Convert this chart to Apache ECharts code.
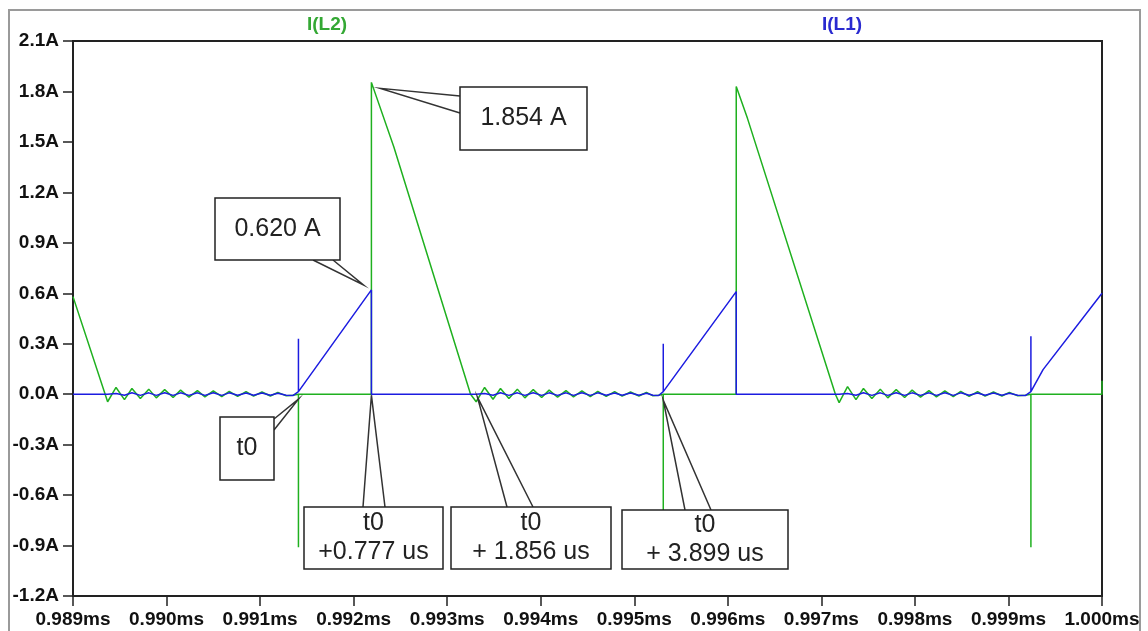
<!DOCTYPE html>
<html>
<head>
<meta charset="utf-8">
<script src="https://cdn.jsdelivr.net/npm/echarts@6/dist/echarts.min.js"></script>
<style>
  html, body { margin: 0; padding: 0; background: #fff; }
  #chart { width: 1148px; height: 631px; }
</style>
</head>
<body>
<div id="chart"></div>
<script>
// ---- data (time in microseconds, current in amperes) ----
const seriesNames = ['I(L2)', 'I(L1)'];
const xTickMin = 989, xTickMax = 1000, xTickStep = 1;      // 0.989ms .. 1.000ms
const yTickMin = -1.2, yTickMax = 2.1, yTickStep = 0.3;    // -1.2A .. 2.1A

const timeUs = [
  989.00, 989.37,
  989.46, 989.55, 989.63, 989.72, 989.81, 989.89, 989.98, 990.07, 990.15, 990.24, 990.33, 990.41,
  990.50, 990.59, 990.67, 990.76, 990.85, 990.93, 991.02, 991.11, 991.19, 991.28, 991.35,
  991.41, 991.41, 991.41, 992.19, 992.19, 992.43, 993.25, 993.31,
  993.40, 993.49, 993.57, 993.66, 993.75, 993.83, 993.92, 994.01, 994.09, 994.18, 994.27, 994.35,
  994.44, 994.53, 994.61, 994.70, 994.79, 994.87, 994.96, 995.05, 995.13, 995.20, 995.26,
  995.31, 995.31, 995.31, 996.09, 996.09, 996.21, 997.15, 997.19,
  997.28, 997.37, 997.45, 997.54, 997.63, 997.71, 997.80, 997.89, 997.97, 998.06, 998.15, 998.23,
  998.32, 998.41, 998.49, 998.58, 998.67, 998.75, 998.84, 998.93, 999.01, 999.10, 999.18,
  999.24, 999.24, 999.24, 999.37, 1000.00, 1000.00
];

const currentL2 = [
  0.58, -0.045,
  0.040, -0.032, 0.034, -0.026, 0.030, -0.022, 0.027, -0.020, 0.024, -0.018, 0.021, -0.016,
  0.019, -0.014, 0.017, -0.013, 0.015, -0.012, 0.013, -0.011, 0.011, -0.010, -0.006,
  0.0, -0.91, 0.0, 0.0, 1.854, 1.47, 0.0, -0.045,
  0.040, -0.030, 0.034, -0.026, 0.030, -0.022, 0.027, -0.020, 0.024, -0.018, 0.021, -0.016,
  0.019, -0.014, 0.017, -0.013, 0.015, -0.012, 0.013, -0.011, 0.011, -0.010, -0.006,
  0.0, -0.92, 0.0, 0.0, 1.83, 1.64, 0.0, -0.05,
  0.045, -0.032, 0.034, -0.026, 0.030, -0.022, 0.027, -0.020, 0.024, -0.018, 0.021, -0.016,
  0.019, -0.014, 0.017, -0.013, 0.015, -0.012, 0.013, -0.011, 0.011, -0.010, -0.006,
  0.0, -0.91, 0.0, 0.0, 0.0, 0.08
];

const currentL1 = [
  0.0, 0.0,
  0.004, -0.006, 0.008, -0.007, 0.008, -0.007, 0.008, -0.007, 0.008, -0.007, 0.008, -0.007,
  0.008, -0.007, 0.008, -0.006, 0.007, -0.006, 0.007, -0.006, 0.006, -0.006, -0.008,
  0.015, 0.33, 0.015, 0.62, 0.0, 0.0, 0.0, 0.0,
  0.004, -0.006, 0.008, -0.007, 0.008, -0.007, 0.008, -0.007, 0.008, -0.007, 0.008, -0.007,
  0.008, -0.007, 0.008, -0.006, 0.007, -0.006, 0.007, -0.006, 0.006, -0.006, -0.008,
  0.015, 0.30, 0.015, 0.61, 0.0, 0.0, 0.0, 0.0,
  0.004, -0.006, 0.008, -0.007, 0.008, -0.007, 0.008, -0.007, 0.008, -0.007, 0.008, -0.007,
  0.008, -0.007, 0.008, -0.006, 0.007, -0.006, 0.007, -0.006, 0.006, -0.006, -0.008,
  0.015, 0.345, 0.015, 0.146, 0.60, 0.60
];

// callout annotations (text + the data point each one refers to)
const calloutText  = ['1.854 A', '0.620 A', 't0', 't0\n+0.777 us', 't0\n+ 1.856 us', 't0\n+ 3.899 us'];
const calloutTime  = [992.19, 992.19, 991.41, 992.19, 993.27, 995.31];
const calloutValue = [1.854, 0.62, 0, 0, 0, 0];

// ---- layout / style (pixels) ----
const calloutBox = [[460, 87, 127, 63], [215, 198, 125, 62], [220, 417, 54, 63],
                    [304, 507, 139, 62], [451, 507, 160, 62], [622, 510, 166, 59]];
const calloutBase = [[[460, 96], [460, 113]], [[313, 260], [333, 260]], [[274, 419], [274, 430]],
                     [[363, 507], [385, 507]], [[507, 507], [533, 507]], [[685, 510], [711, 510]]];
const calloutTipOffset = [[9, 6], [-8, -5], [0, 5], [0, 1], [5, 3], [0, 6]];

const GREEN = '#1fb01f', BLUE = '#1c1ce0';
const GREEN_TXT = '#34a834', BLUE_TXT = '#2a2ad0';
const FONT = '"Liberation Sans", Arial, sans-serif';

const chart = echarts.init(document.getElementById('chart'), null, { renderer: 'canvas' });

const l2Data = timeUs.map((t, i) => [t, currentL2[i]]);
const l1Data = timeUs.map((t, i) => [t, currentL1[i]]);

chart.setOption({
  animation: false,
  backgroundColor: '#fff',
  legend: [
    { data: [{ name: seriesNames[0], textStyle: { color: GREEN_TXT } }], left: 302, top: 15,
      icon: 'none', itemWidth: 0, itemHeight: 0, padding: 0, selectedMode: false,
      textStyle: { fontFamily: FONT, fontWeight: 'bold', fontSize: 19 } },
    { data: [{ name: seriesNames[1], textStyle: { color: BLUE_TXT } }], left: 817, top: 15,
      icon: 'none', itemWidth: 0, itemHeight: 0, padding: 0, selectedMode: false,
      textStyle: { fontFamily: FONT, fontWeight: 'bold', fontSize: 19 } }
  ],
  grid: { left: 73, right: 46, top: 41, bottom: 35, show: true, borderColor: '#222', borderWidth: 2, backgroundColor: '#fff' },
  xAxis: {
    type: 'value', min: xTickMin, max: xTickMax, interval: xTickStep,
    axisLine: { show: true, onZero: false, lineStyle: { color: '#222', width: 2 } },
    axisTick: { show: true, length: 10, lineStyle: { color: '#222', width: 1.5 } },
    splitLine: { show: false },
    axisLabel: { margin: 14, color: '#111', fontFamily: FONT, fontWeight: 'bold', fontSize: 19,
      formatter: v => (v / 1000).toFixed(3) + 'ms', showMinLabel: true, showMaxLabel: true }
  },
  yAxis: {
    type: 'value', min: yTickMin, max: yTickMax, interval: yTickStep,
    axisLine: { show: true, onZero: false, lineStyle: { color: '#222', width: 2 } },
    axisTick: { show: true, length: 10, lineStyle: { color: '#222', width: 1.5 } },
    splitLine: { show: false },
    axisLabel: { margin: 14, color: '#111', fontFamily: FONT, fontWeight: 'bold', fontSize: 19,
      formatter: v => (Math.abs(v) < 1e-9 ? 0 : v).toFixed(1) + 'A' }
  },
  series: [
    { name: seriesNames[0], type: 'line', data: l2Data, showSymbol: false, symbol: 'none',
      lineStyle: { color: GREEN, width: 1.5 }, itemStyle: { color: GREEN }, z: 2 },
    { name: seriesNames[1], type: 'line', data: l1Data, showSymbol: false, symbol: 'none',
      lineStyle: { color: BLUE, width: 1.5 }, itemStyle: { color: BLUE }, z: 3 }
  ]
});

// callouts: pointer wedge + boxed text, pointer tip placed via the chart's own scales
const graphics = [];
graphics.push({ type: 'rect', z: 1, silent: true,
  shape: { x: 9, y: 10, width: 1131, height: 640 },
  style: { fill: 'none', stroke: '#9a9a9a', lineWidth: 2 } });
calloutText.forEach((txt, k) => {
  const p = chart.convertToPixel({ gridIndex: 0 }, [calloutTime[k], calloutValue[k]]);
  const tip = [p[0] + calloutTipOffset[k][0], p[1] + calloutTipOffset[k][1]];
  const b = calloutBox[k];
  graphics.push({ type: 'polyline', z: 100, silent: true,
    shape: { points: [calloutBase[k][0], tip, calloutBase[k][1]] },
    style: { fill: 'none', stroke: '#333', lineWidth: 1.5 } });
  graphics.push({ type: 'rect', z: 101, silent: true,
    shape: { x: b[0], y: b[1], width: b[2], height: b[3] },
    style: { fill: '#fff', stroke: '#222', lineWidth: 1.5 } });
  graphics.push({ type: 'text', z: 102, silent: true,
    x: b[0] + b[2] / 2, y: b[1] + b[3] / 2,
    style: { text: txt, fill: '#222', font: '25px ' + FONT, lineHeight: 29,
             align: 'center', verticalAlign: 'middle' } });
});
chart.setOption({ graphic: graphics });
</script>
</body>
</html>
